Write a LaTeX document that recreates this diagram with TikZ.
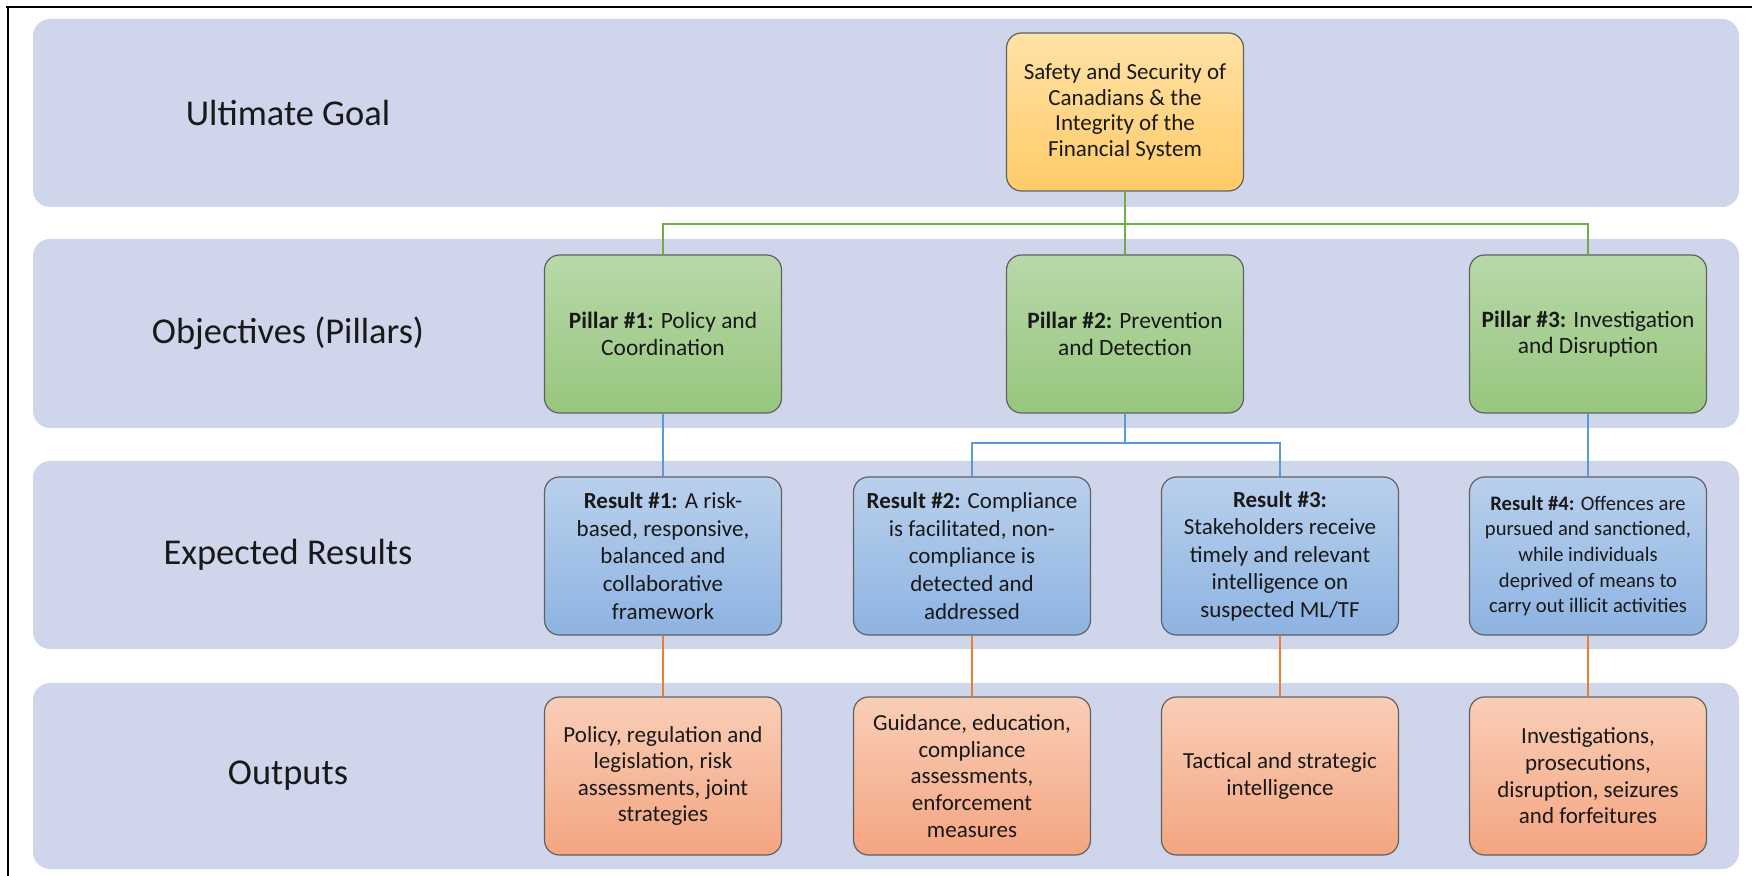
\documentclass[tikz,border=0pt]{standalone}
\usepackage{fontspec}
\setmainfont{Carlito}
\definecolor{bandfill}{HTML}{CFD5EA}
\definecolor{goaltop}{HTML}{FFE2A6}
\definecolor{goalbot}{HTML}{FFCB68}
\definecolor{pillartop}{HTML}{B8D8A9}
\definecolor{pillarbot}{HTML}{97C67D}
\definecolor{resulttop}{HTML}{B9D0EC}
\definecolor{resultbot}{HTML}{8DB3E2}
\definecolor{outputtop}{HTML}{F9CEB7}
\definecolor{outputbot}{HTML}{F4A581}
\definecolor{greenline}{HTML}{70AD47}
\definecolor{blueline}{HTML}{5B9BD5}
\definecolor{orangeline}{HTML}{ED7D31}
\begin{document}
\begin{tikzpicture}[x=0.5pt, y=-0.5pt,
    band/.style={fill=bandfill, rounded corners=8.5pt},
    rowlabel/.style={font=\fontsize{18.2}{21}\selectfont, text=black!90},
    box/.style={draw=black!62, line width=0.6pt, rounded corners=7.5pt, minimum width=118.5pt,
        minimum height=79pt, align=center, inner sep=2pt, text=black!90, font=\fontsize{11.5}{12.8}\selectfont},
    goalbox/.style={box, top color=goaltop, bottom color=goalbot},
    pillarbox/.style={box, top color=pillartop, bottom color=pillarbot, font=\fontsize{11.7}{13.2}\selectfont},
    resultbox/.style={box, top color=resulttop, bottom color=resultbot, font=\fontsize{11.5}{13.8}\selectfont},
    outputbox/.style={box, top color=outputtop, bottom color=outputbot, font=\fontsize{11.5}{13.3}\selectfont},
    link/.style={line width=1pt}]
    \useasboundingbox (0,0) rectangle (1754,876);
    \draw[line width=1pt] (6,7) -- (1752,7);
    \draw[line width=1pt] (8,7) -- (8,876);
    % the four rows
    \foreach \top/\bot/\txt [count=\k] in {19/207/Ultimate Goal, 239/428/Objectives (Pillars), 461/649/Expected Results, 683/869/Outputs} {
        \fill[band] (33,\top) rectangle (1739,\bot);
        \node[rowlabel] (row\k) at (288,{(\top+\bot)/2}) {\txt};
    }
    \node[goalbox] (goal) at (1125,112) {Safety and Security of\\Canadians \& the\\Integrity of the\\Financial System};
    \node[pillarbox] (p1) at (663,334) {\textbf{Pillar \#1:} Policy and\\Coordination};
    \node[pillarbox] (p2) at (1125,334) {\textbf{Pillar \#2:} Prevention\\and Detection};
    \node[pillarbox] (p3) at (1588,334) {\textbf{Pillar \#3:} Investigation\\and Disruption};
    \node[resultbox] (r1) at (663,556) {\textbf{Result \#1:} A risk-\\based, responsive,\\balanced and\\collaborative\\framework};
    \node[resultbox] (r2) at (972,556) {\textbf{Result \#2:} Compliance\\is facilitated, non-\\compliance is\\detected and\\addressed};
    \node[resultbox] (r3) at (1280,556) {\textbf{Result \#3:}\\Stakeholders receive\\timely and relevant\\intelligence on\\suspected ML/TF};
    \node[resultbox, font=\fontsize{10.3}{12.8}\selectfont] (r4) at (1588,556) {\textbf{Result \#4:} Offences are\\pursued and sanctioned,\\while individuals\\deprived of means to\\carry out illicit activities};
    \node[outputbox] (o1) at (663,776) {Policy, regulation and\\legislation, risk\\assessments, joint\\strategies};
    \node[outputbox] (o2) at (972,776) {Guidance, education,\\compliance\\assessments,\\enforcement\\measures};
    \node[outputbox] (o3) at (1280,776) {Tactical and strategic\\intelligence};
    \node[outputbox] (o4) at (1588,776) {Investigations,\\prosecutions,\\disruption, seizures\\and forfeitures};
    % connectors
    \coordinate (gbar) at (1125,224);
    \coordinate (bbar) at (1125,443);
    \draw[link, greenline] (goal) -- (p2);
    \draw[link, greenline] (p1) |- (gbar) -| (p3);
    \draw[link, blueline] (p1) -- (r1);
    \draw[link, blueline] (p3) -- (r4);
    \draw[link, blueline] (p2) -- (bbar);
    \draw[link, blueline] (r2) |- (bbar) -| (r3);
    \foreach \i in {1,...,4}
        \draw[link, orangeline] (r\i) -- (o\i);
\end{tikzpicture}
\end{document}
